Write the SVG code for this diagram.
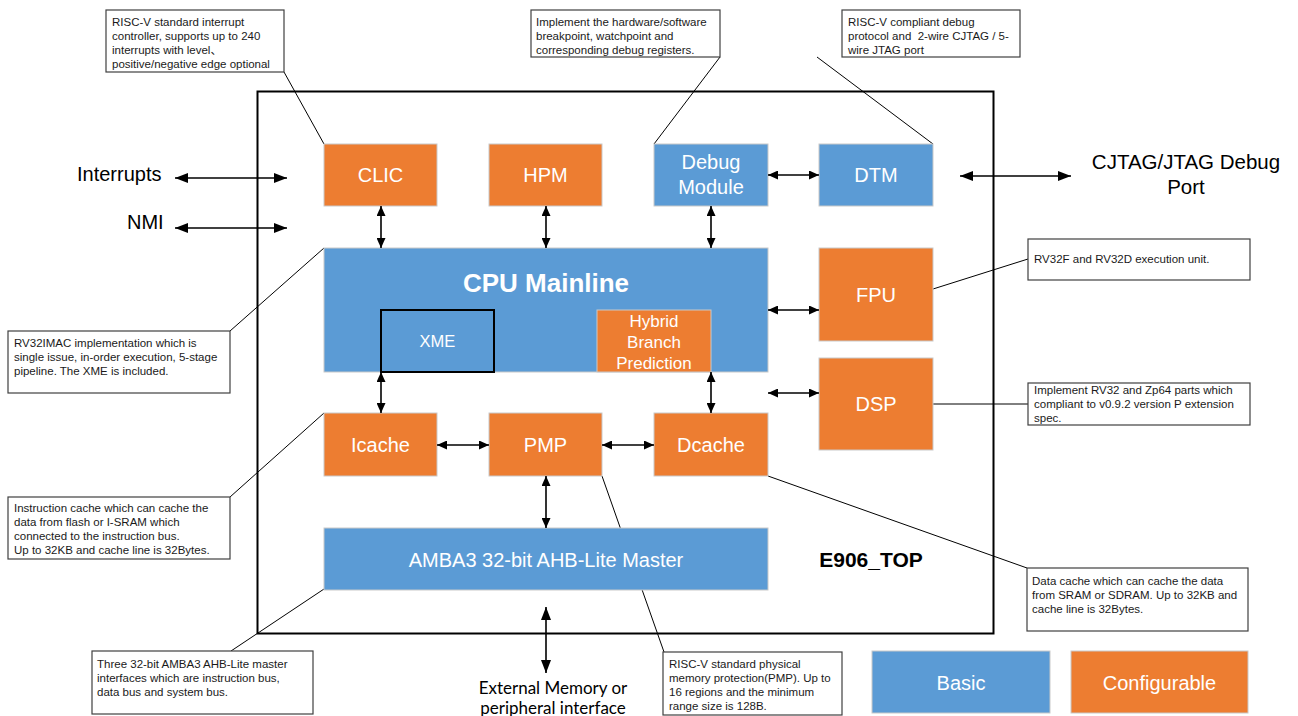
<svg xmlns="http://www.w3.org/2000/svg" width="1298" height="716" viewBox="0 0 1298 716">
<style>
  .o{fill:#ED7D31;stroke:#c9c9c9;stroke-width:1}
  .b{fill:#5B9BD5;stroke:#c9c9c9;stroke-width:1}
  .wt{font-family:"Liberation Sans",Arial,sans-serif;fill:#fff;font-size:20px;text-anchor:middle}
  .co{fill:#fff;stroke:#404040;stroke-width:1.2}
  .ct{font-family:"Liberation Sans",Arial,"Noto Sans CJK SC",sans-serif;fill:#1a1a1a;font-size:11.5px;white-space:pre}
  .lead{stroke:#000;stroke-width:1;fill:none}
  .ar{stroke:#000;stroke-width:1.6;fill:none;marker-start:url(#hs);marker-end:url(#hs)}
  .arL{stroke:#000;stroke-width:1.6;fill:none;marker-start:url(#hl);marker-end:url(#hl)}
  .lt{font-family:"Liberation Sans",Arial,sans-serif;fill:#000;font-size:20px}
</style>
<defs>
  <marker id="hs" markerUnits="userSpaceOnUse" markerWidth="11" markerHeight="9" refX="10" refY="4.5" orient="auto-start-reverse">
    <path d="M0,0 L10,4.5 L0,9 z" fill="#000"/>
  </marker>
  <marker id="hl" markerUnits="userSpaceOnUse" markerWidth="14" markerHeight="10" refX="13" refY="5" orient="auto-start-reverse">
    <path d="M0,0 L13,5 L0,10 z" fill="#000"/>
  </marker>
</defs>
<rect width="1298" height="716" fill="#fff"/>

<g id="E906_TOP">
  <rect x="257.5" y="91.5" width="736" height="542" fill="none" stroke="#000" stroke-width="2"/>
  <text x="871" y="567" font-family="Liberation Sans,Arial,sans-serif" font-weight="bold" font-size="21" text-anchor="middle" fill="#000">E906_TOP</text>
</g>

<g id="leaders">
  <line class="lead" x1="284" y1="72" x2="324" y2="144"/>
  <line class="lead" x1="720" y1="57" x2="654" y2="144"/>
  <line class="lead" x1="817" y1="57" x2="933" y2="144"/>
  <line class="lead" x1="933" y1="289" x2="1028" y2="259"/>
  <line class="lead" x1="933" y1="404" x2="1028" y2="404"/>
  <line class="lead" x1="230" y1="331" x2="324" y2="248"/>
  <line class="lead" x1="230" y1="497" x2="324" y2="413"/>
  <line class="lead" x1="324" y1="589" x2="231" y2="651"/>
  <line class="lead" x1="602" y1="476" x2="664" y2="652"/>
  <line class="lead" x1="768" y1="476" x2="1027" y2="568"/>
</g>

<g id="CLIC"><rect class="o" x="324" y="144" width="113" height="62"/><text class="wt" x="380.5" y="182">CLIC</text></g>
<g id="HPM"><rect class="o" x="489" y="144" width="113" height="62"/><text class="wt" x="545.5" y="182">HPM</text></g>
<g id="DebugModule"><rect class="b" x="654" y="144" width="114" height="62"/><text class="wt" x="711" y="169">Debug</text><text class="wt" x="711" y="194">Module</text></g>
<g id="DTM"><rect class="b" x="819" y="144" width="114" height="62"/><text class="wt" x="876" y="182">DTM</text></g>

<g id="CPUMainline">
  <rect class="b" x="324" y="248" width="444" height="124"/>
  <text x="546" y="292" font-family="Liberation Sans,Arial,sans-serif" font-weight="bold" font-size="26" text-anchor="middle" fill="#fff">CPU Mainline</text>
</g>
<g id="XME"><rect x="381" y="310" width="113" height="62" fill="#5B9BD5" stroke="#000" stroke-width="2"/><text class="wt" x="437.5" y="347" style="font-size:16.5px">XME</text></g>
<g id="HybridBranchPrediction"><rect class="o" x="597" y="310" width="114" height="62"/>
  <text class="wt" x="654" y="327" style="font-size:17px">Hybrid</text>
  <text class="wt" x="654" y="348" style="font-size:17px">Branch</text>
  <text class="wt" x="654" y="369" style="font-size:17px">Prediction</text>
</g>
<g id="FPU"><rect class="o" x="819" y="248" width="114" height="93"/><text class="wt" x="876" y="302">FPU</text></g>
<g id="DSP"><rect class="o" x="819" y="358" width="114" height="92"/><text class="wt" x="876" y="411">DSP</text></g>
<g id="Icache"><rect class="o" x="324" y="413" width="113" height="63"/><text class="wt" x="380.5" y="452">Icache</text></g>
<g id="PMP"><rect class="o" x="489" y="413" width="113" height="63"/><text class="wt" x="545.5" y="452">PMP</text></g>
<g id="Dcache"><rect class="o" x="654" y="413" width="114" height="63"/><text class="wt" x="711" y="452">Dcache</text></g>
<g id="AMBA"><rect class="b" x="324" y="528" width="444" height="62"/><text class="wt" x="546" y="567">AMBA3 32-bit AHB-Lite Master</text></g>

<g id="connectors">
  <line class="ar" x1="381" y1="206" x2="381" y2="248"/>
  <line class="ar" x1="546" y1="206" x2="546" y2="248"/>
  <line class="ar" x1="711" y1="206" x2="711" y2="248"/>
  <line class="ar" x1="768" y1="175" x2="819" y2="175"/>
  <line class="ar" x1="768" y1="310" x2="819" y2="310"/>
  <line class="ar" x1="768" y1="393" x2="819" y2="393"/>
  <line class="ar" x1="381" y1="372" x2="381" y2="413"/>
  <line class="ar" x1="711" y1="372" x2="711" y2="413"/>
  <line class="ar" x1="437" y1="445" x2="489" y2="445"/>
  <line class="ar" x1="602" y1="445" x2="654" y2="445"/>
  <line class="ar" x1="546" y1="476" x2="546" y2="528"/>
  <line class="arL" x1="546" y1="607" x2="546" y2="673"/>
  <line class="arL" x1="175" y1="178" x2="287" y2="178"/>
  <line class="arL" x1="175" y1="228" x2="287" y2="228"/>
  <line class="arL" x1="960" y1="176" x2="1071" y2="176"/>
</g>

<g id="labels">
  <text class="lt" x="77" y="181">Interrupts</text>
  <text class="lt" x="127" y="229">NMI</text>
  <text class="lt" x="1186" y="169" text-anchor="middle" style="font-size:20.5px">CJTAG/JTAG Debug</text>
  <text class="lt" x="1186" y="194" text-anchor="middle" style="font-size:20.5px">Port</text>
  <text x="553" y="694" font-family="Lato,'Open Sans',sans-serif" font-size="17" text-anchor="middle" fill="#000">External Memory or</text>
  <text x="553" y="714" font-family="Lato,'Open Sans',sans-serif" font-size="17" text-anchor="middle" fill="#000">peripheral interface</text>
</g>

<g id="note-clic"><rect class="co" x="106" y="10" width="178" height="62"/>
  <text class="ct" x="112" y="26">RISC-V standard interrupt</text>
  <text class="ct" x="112" y="40">controller, supports up to 240</text>
  <text class="ct" x="112" y="54">interrupts with level、</text>
  <text class="ct" x="112" y="68">positive/negative edge optional</text>
</g>
<g id="note-debug"><rect class="co" x="531" y="10" width="189" height="47"/>
  <text class="ct" x="536" y="26">Implement the hardware/software</text>
  <text class="ct" x="536" y="40">breakpoint, watchpoint and</text>
  <text class="ct" x="536" y="54">corresponding debug registers.</text>
</g>
<g id="note-dtm"><rect class="co" x="842" y="10" width="178" height="47"/>
  <text class="ct" x="848" y="26">RISC-V compliant debug</text>
  <text class="ct" x="848" y="40">protocol and  2-wire CJTAG / 5-</text>
  <text class="ct" x="848" y="54">wire JTAG port</text>
</g>
<g id="note-fpu"><rect class="co" x="1028" y="239" width="222" height="41"/>
  <text class="ct" x="1034" y="263">RV32F and RV32D execution unit.</text>
</g>
<g id="note-dsp"><rect class="co" x="1028" y="383" width="222" height="42"/>
  <text class="ct" x="1034" y="394">Implement RV32 and Zp64 parts which</text>
  <text class="ct" x="1034" y="408">compliant to v0.9.2 version P extension</text>
  <text class="ct" x="1034" y="422">spec.</text>
</g>
<g id="note-cpu"><rect class="co" x="8" y="331" width="222" height="62"/>
  <text class="ct" x="14" y="347">RV32IMAC implementation which is</text>
  <text class="ct" x="14" y="361">single issue, in-order execution, 5-stage</text>
  <text class="ct" x="14" y="375">pipeline. The XME is included.</text>
</g>
<g id="note-icache"><rect class="co" x="8" y="497" width="222" height="62"/>
  <text class="ct" x="14" y="512">Instruction cache which can cache the</text>
  <text class="ct" x="14" y="526">data from flash or I-SRAM which</text>
  <text class="ct" x="14" y="540">connected to the instruction bus.</text>
  <text class="ct" x="14" y="554">Up to 32KB and cache line is 32Bytes.</text>
</g>
<g id="note-amba"><rect class="co" x="92" y="651" width="221" height="63"/>
  <text class="ct" x="97" y="668">Three 32-bit AMBA3 AHB-Lite master</text>
  <text class="ct" x="97" y="682">interfaces which are instruction bus,</text>
  <text class="ct" x="97" y="696">data bus and system bus.</text>
</g>
<g id="note-pmp"><rect class="co" x="663" y="652" width="179" height="63"/>
  <text class="ct" x="669" y="668">RISC-V standard physical</text>
  <text class="ct" x="669" y="682">memory protection(PMP). Up to</text>
  <text class="ct" x="669" y="696">16 regions and the minimum</text>
  <text class="ct" x="669" y="710">range size is 128B.</text>
</g>
<g id="note-dcache"><rect class="co" x="1027" y="568" width="221" height="63"/>
  <text class="ct" x="1032" y="585">Data cache which can cache the data</text>
  <text class="ct" x="1032" y="599">from SRAM or SDRAM. Up to 32KB and</text>
  <text class="ct" x="1032" y="613">cache line is 32Bytes.</text>
</g>

<g id="legend-basic"><rect class="b" x="872" y="651" width="178" height="62"/><text class="wt" x="961" y="690">Basic</text></g>
<g id="legend-configurable"><rect class="o" x="1071" y="651" width="177" height="62"/><text class="wt" x="1159.5" y="690">Configurable</text></g>
</svg>
